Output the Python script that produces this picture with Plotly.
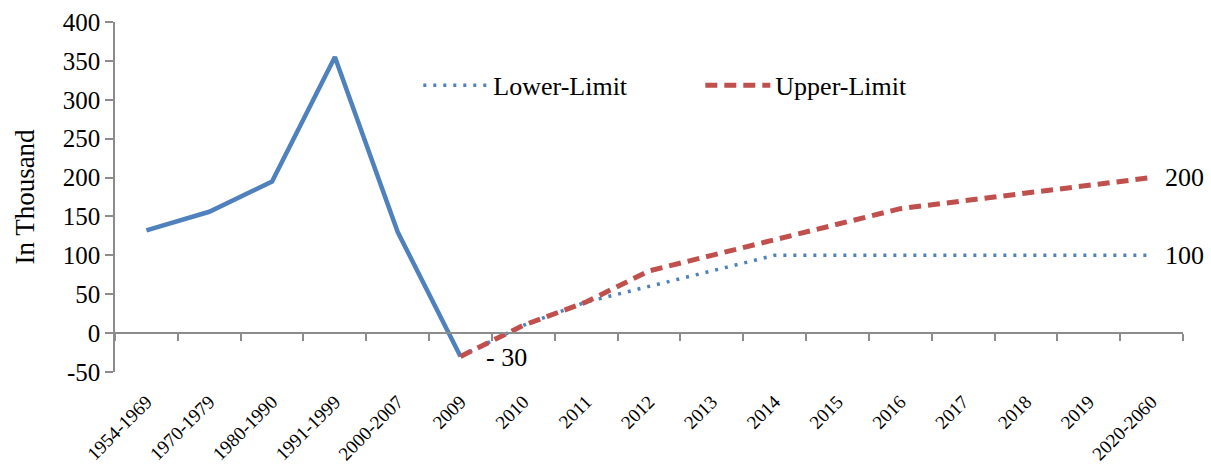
import plotly.graph_objects as go

# Periods on the category axis
periods = ["1954-1969", "1970-1979", "1980-1990", "1991-1999", "2000-2007",
           "2009", "2010", "2011", "2012", "2013", "2014", "2015", "2016",
           "2017", "2018", "2019", "2020-2060"]

# Historical net migration (thousand)
hist_periods = ["1954-1969", "1970-1979", "1980-1990", "1991-1999", "2000-2007", "2009"]
hist_values = [132, 156, 195, 355, 130, -30]

# Projection scenarios (thousand)
proj_periods = ["2009", "2010", "2011", "2012", "2013", "2014", "2015", "2016",
                "2017", "2018", "2019", "2020-2060"]
lower_values = [-30, 10, 40, 60, 80, 100, 100, 100, 100, 100, 100, 100]
upper_values = [-30, 10, 40, 80, 100, 120, 140, 160, 170, 180, 190, 200]

y_ticks = [-50, 0, 50, 100, 150, 200, 250, 300, 350, 400]

BLUE = "#4F81BD"
RED = "#C0504D"
AXIS = "#8C8C8C"
FONT = "Liberation Serif"

fig = go.Figure()

fig.add_trace(go.Scatter(
    x=hist_periods, y=hist_values, mode="lines", showlegend=False,
    line=dict(color=BLUE, width=4.5), hoverinfo="skip"))

fig.add_trace(go.Scatter(
    x=proj_periods, y=lower_values, mode="lines", name="Lower-Limit",
    line=dict(color=BLUE, width=3.5, dash="3px,7px")))

fig.add_trace(go.Scatter(
    x=proj_periods, y=upper_values, mode="lines", name="Upper-Limit",
    line=dict(color=RED, width=5, dash="12px,7px")))

# Invisible helper trace that carries the axis line drawn through zero
fig.add_trace(go.Scatter(
    x=periods, y=[None] * len(periods), xaxis="x2", mode="lines",
    showlegend=False, hoverinfo="skip"))

def fmt(v):
    return f"- {abs(v)}" if v < 0 else f"{v}"

def idx(p):
    # category index on the x axis
    return periods.index(p)

ann_font = dict(family=FONT, size=26, color="black")
annotations = [
    dict(x=idx(hist_periods[-1]), y=hist_values[-1], text=fmt(hist_values[-1]),
         xref="x", yref="y", xanchor="left", yanchor="middle", xshift=23, yshift=-1,
         showarrow=False, font=ann_font),
    dict(x=idx(proj_periods[-1]), y=upper_values[-1], text=fmt(upper_values[-1]),
         xref="x", yref="y", xanchor="left", yanchor="middle", xshift=11,
         showarrow=False, font=ann_font),
    dict(x=idx(proj_periods[-1]), y=lower_values[-1], text=fmt(lower_values[-1]),
         xref="x", yref="y", xanchor="left", yanchor="middle", xshift=11,
         showarrow=False, font=ann_font),
]

y_min, y_max = -50, 400

fig.update_layout(
    width=1211, height=471,
    margin=dict(l=115, r=28, t=22, b=99),
    paper_bgcolor="white", plot_bgcolor="white",
    font=dict(family=FONT, color="black"),
    showlegend=True,
    legend=dict(orientation="h", x=0.284, y=0.886, xanchor="left", yanchor="top",
                font=dict(family=FONT, size=26, color="black"),
                itemwidth=65, entrywidth=202, entrywidthmode="pixels",
                bgcolor="rgba(0,0,0,0)"),
    xaxis=dict(type="category", categoryorder="array", categoryarray=periods,
               range=[-0.5, len(periods) - 0.5], showline=False, ticks="",
               showgrid=False, zeroline=False, tickangle=-45, automargin=False,
               tickfont=dict(family=FONT, size=19, color="black"),
               ticklabelstandoff=14),
    xaxis2=dict(type="category", categoryorder="array", categoryarray=periods,
                overlaying="x", anchor="free", automargin=False,
                position=(0 - y_min) / (y_max - y_min),
                range=[-0.5, len(periods) - 0.5], showline=True,
                linecolor=AXIS, linewidth=1.5, ticks="outside",
                tickson="boundaries", ticklen=7, tickcolor=AXIS, tickwidth=1.5,
                showticklabels=False, showgrid=False, zeroline=False),
    yaxis=dict(range=[y_min, y_max], tickvals=y_ticks,
               ticktext=[str(v) for v in y_ticks], showline=True,
               automargin=False,
               linecolor=AXIS, linewidth=1.5, ticks="outside", ticklen=8,
               tickcolor=AXIS, tickwidth=1.5, showgrid=False, zeroline=False,
               tickfont=dict(family=FONT, size=25, color="black"),
               title=dict(text="In Thousand", standoff=20,
                          font=dict(family=FONT, size=27, color="black"))),
    annotations=annotations,
)

fig.write_html("out.html")
